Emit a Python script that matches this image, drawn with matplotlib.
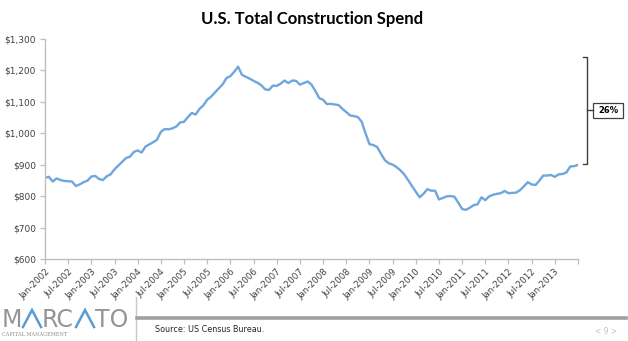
import matplotlib
matplotlib.use("Agg")
import matplotlib.pyplot as plt
from matplotlib.lines import Line2D
from matplotlib.patches import Rectangle

# monthly total construction spending, $bn (SAAR), Jan-2002 .. Jul-2013
spend_2002 = [859, 862, 847, 857, 852, 849, 848, 847, 833, 838, 845, 850]
spend_2003 = [863, 865, 855, 852, 864, 870, 886, 898, 910, 922, 926, 941]
spend_2004 = [946, 939, 958, 965, 972, 980, 1005, 1014, 1013, 1016, 1022, 1035]
spend_2005 = [1037, 1052, 1065, 1060, 1078, 1089, 1107, 1117, 1130, 1143, 1156, 1176]
spend_2006 = [1182, 1196, 1212, 1186, 1180, 1174, 1167, 1161, 1153, 1140, 1138, 1152]
spend_2007 = [1151, 1158, 1168, 1160, 1168, 1167, 1155, 1160, 1165, 1155, 1135, 1112]
spend_2008 = [1107, 1093, 1094, 1092, 1090, 1078, 1068, 1057, 1055, 1052, 1037, 1000]
spend_2009 = [966, 963, 957, 935, 915, 905, 901, 893, 883, 870, 852, 833]
spend_2010 = [815, 797, 808, 823, 818, 818, 790, 795, 800, 801, 799, 780]
spend_2011 = [760, 757, 764, 772, 775, 797, 788, 800, 805, 808, 810, 817]
spend_2012 = [810, 811, 812, 820, 832, 845, 838, 836, 850, 866, 866, 868]
spend_2013 = [862, 870, 871, 876, 895, 896, 900]

spend = (spend_2002 + spend_2003 + spend_2004 + spend_2005 + spend_2006 + spend_2007
         + spend_2008 + spend_2009 + spend_2010 + spend_2011 + spend_2012 + spend_2013)
months = list(range(len(spend)))

tick_labels = []
for yr in range(2002, 2014):
    tick_labels += ["Jan-%d" % yr, "Jul-%d" % yr]
tick_labels = tick_labels[:23] + [""]

y_ticks = [600, 700, 800, 900, 1000, 1100, 1200, 1300]
decline_label = "26%"

W, H = 628, 341
fig = plt.figure(figsize=(W / 100, H / 100), dpi=100)
fig.patch.set_facecolor("white")


def px(x, y):
    return x / W, 1 - y / H


def fig_line(xs, ys, **kw):
    fig.add_artist(Line2D([x / W for x in xs], [1 - y / H for y in ys], **kw))


ax = fig.add_axes([45 / W, 1 - 259.3 / H, (578 - 45) / W, (259.3 - 39) / H])
ax.plot(months, spend, color="#6ea6dd", lw=1.7, solid_joinstyle="round")

ax.set_xlim(0, 138)
ax.set_ylim(600, 1300)
ax.set_xticks(range(0, 139, 6))
ax.set_xticklabels(tick_labels, rotation=45, ha="right", rotation_mode="anchor",
                   fontsize=6.3, color="#404040")
ax.set_yticks(y_ticks)
ax.set_yticklabels(["${:,}".format(v) for v in y_ticks], fontsize=6.5, color="#404040")
for side in ["top", "right"]:
    ax.spines[side].set_visible(False)
for side in ["left", "bottom"]:
    ax.spines[side].set_color("#bfbfbf")
    ax.spines[side].set_linewidth(1.0)
ax.tick_params(axis="both", colors="#bfbfbf", length=3.5, width=0.9, labelcolor="#404040")
ax.tick_params(axis="x", pad=2)
ax.tick_params(axis="y", pad=3)

fig.text(*px(312, 19), "U.S. Total Construction Spend", ha="center", va="center",
         fontsize=12, fontweight="bold", family=["Lato", "DejaVu Sans"], color="black")

# bracket showing peak-to-current decline
bk = "#404040"
fig_line([583, 587, 587, 583], [57, 57, 164, 164], color=bk, lw=1.0)
fig_line([587, 593], [110.5, 110.5], color=bk, lw=1.0)
bx0, by0 = px(593, 118)
fig.add_artist(Rectangle((bx0, by0), 30 / W, 15 / H, transform=fig.transFigure,
                         facecolor="white", edgecolor=bk, lw=0.9))
fig.text(*px(608, 110.5), decline_label, ha="center", va="center", fontsize=6,
         fontweight="bold", color="black")

# footer
fig_line([136, 136], [297, 341], color="#c8c8c8", lw=1.0)
fig_line([137, 626], [318, 318], color="#a0a0a0", lw=2.6)
fig.text(*px(155, 329), "Source: US Census Bureau.", ha="left", va="center",
         fontsize=5.8, color="#262626")
fig.text(*px(606, 331), "< 9 >", ha="center", va="center", fontsize=5.5, color="#c0c0c0")

# logo: grey letters with blue open "A"s
grey, blue = "#959595", "#5b9bd5"
base, cap = 327, 17
for ltxt, lx in [("M", 2), ("RC", 42), ("TO", 95)]:
    fig.text(*px(lx, base), ltxt, ha="left", va="baseline", fontsize=17,
             family="DejaVu Sans", color=grey)
for x0 in [23, 76]:
    fig_line([x0, x0 + 9, x0 + 18], [base, base - cap, base], color=blue, lw=1.8,
             solid_joinstyle="miter")
fig.text(*px(2, 334), "CAPITAL MANAGEMENT", ha="left", va="center", fontsize=3.6,
         color="#8c8c8c", family="DejaVu Serif")

fig.savefig("out.png", dpi=100)
